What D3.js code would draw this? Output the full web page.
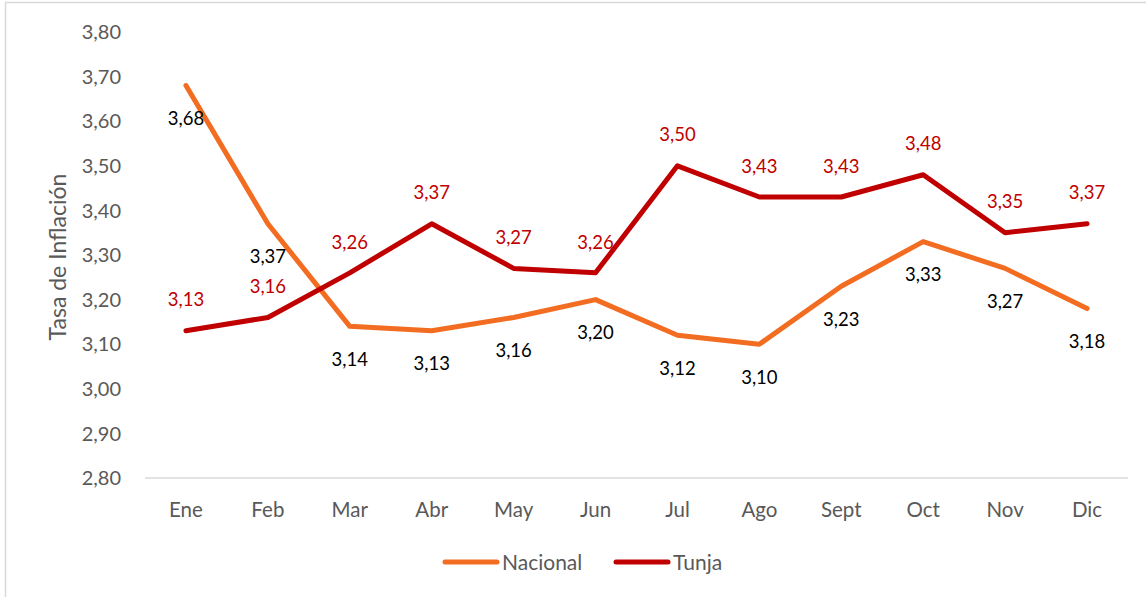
<!DOCTYPE html>
<html>
<head>
<meta charset="utf-8">
<script src="https://cdn.jsdelivr.net/npm/d3@7"></script>
<style>
  body { margin: 0; background: #fff; }
  svg { display: block; font-family: Lato, "Open Sans", sans-serif; }
</style>
</head>
<body>
<div id="chart"></div>
<script>
var months = ["Ene", "Feb", "Mar", "Abr", "May", "Jun", "Jul", "Ago", "Sept", "Oct", "Nov", "Dic"];
var nacional = [3.68, 3.37, 3.14, 3.13, 3.16, 3.20, 3.12, 3.10, 3.23, 3.33, 3.27, 3.18];
var tunja = [3.13, 3.16, 3.26, 3.37, 3.27, 3.26, 3.50, 3.43, 3.43, 3.48, 3.35, 3.37];
var yTicks = [2.8, 2.9, 3.0, 3.1, 3.2, 3.3, 3.4, 3.5, 3.6, 3.7, 3.8];

var width = 1146, height = 597;
var fmt = function(v) { return d3.format(".2f")(v).replace(".", ","); };

var svg = d3.select("#chart").append("svg")
  .attr("width", width)
  .attr("height", height);

// outer frame (runs off the right and bottom edge)
svg.append("rect")
  .attr("x", 5.5).attr("y", 2.5)
  .attr("width", 1160).attr("height", 620)
  .attr("fill", "none")
  .attr("stroke", "#d9d9d9")
  .attr("stroke-width", 1.5);

var x = d3.scaleBand().domain(months).range([145, 1128]);
var y = d3.scaleLinear().domain([2.8, 3.8]).range([478, 32]);
var cx = function(m) { return x(m) + x.bandwidth() / 2; };

// y tick labels
svg.append("g")
  .selectAll("text")
  .data(yTicks).enter()
  .append("text")
  .attr("x", 121)
  .attr("y", function(d) { return y(d); })
  .attr("dy", "0.36em")
  .attr("text-anchor", "end")
  .attr("fill", "#595959")
  .style("font-size", "20px")
  .text(fmt);

// x axis line
svg.append("line")
  .attr("x1", 145).attr("x2", 1128)
  .attr("y1", y(2.8)).attr("y2", y(2.8))
  .attr("stroke", "#d9d9d9")
  .attr("stroke-width", 1.5);

// x labels
svg.append("g")
  .selectAll("text")
  .data(months).enter()
  .append("text")
  .attr("x", cx)
  .attr("y", 510)
  .attr("dy", "0.36em")
  .attr("text-anchor", "middle")
  .attr("fill", "#595959")
  .style("font-size", "20.5px")
  .text(function(d) { return d; });

// y title
svg.append("text")
  .attr("transform", "translate(58," + 257 + ") rotate(-90)")
  .attr("text-anchor", "middle")
  .attr("dy", "0.36em")
  .attr("fill", "#595959")
  .style("font-size", "23px")
  .text("Tasa de Inflación");

var line = d3.line()
  .x(function(d, i) { return cx(months[i]); })
  .y(function(d) { return y(d); });

var series = [
  { name: "Nacional", values: nacional, color: "#F26D21", labelColor: "#000", offset: 33 },
  { name: "Tunja", values: tunja, color: "#C00000", labelColor: "#C00000", offset: -31 }
];

series.forEach(function(s) {
  svg.append("path")
    .datum(s.values)
    .attr("d", line)
    .attr("fill", "none")
    .attr("stroke", s.color)
    .attr("stroke-width", 5)
    .attr("stroke-linejoin", "round")
    .attr("stroke-linecap", "round");
});

series.forEach(function(s) {
  svg.append("g")
    .selectAll("text")
    .data(s.values).enter()
    .append("text")
    .attr("x", function(d, i) { return cx(months[i]); })
    .attr("y", function(d) { return y(d) + s.offset; })
    .attr("dy", "0.36em")
    .attr("text-anchor", "middle")
    .attr("fill", s.labelColor)
    .style("font-size", "18.5px")
    .text(fmt);
});

// legend
var legend = svg.append("g");
var legendItems = [
  { name: "Nacional", color: "#F26D21", x: 445 },
  { name: "Tunja", color: "#C00000", x: 616 }
];
legendItems.forEach(function(l) {
  legend.append("line")
    .attr("x1", l.x).attr("x2", l.x + 52)
    .attr("y1", 562).attr("y2", 562)
    .attr("stroke", l.color)
    .attr("stroke-width", 5)
    .attr("stroke-linecap", "round");
  legend.append("text")
    .attr("x", l.x + 57)
    .attr("y", 562)
    .attr("dy", "0.36em")
    .attr("fill", "#595959")
    .style("font-size", "21px")
    .text(l.name);
});
</script>
</body>
</html>
